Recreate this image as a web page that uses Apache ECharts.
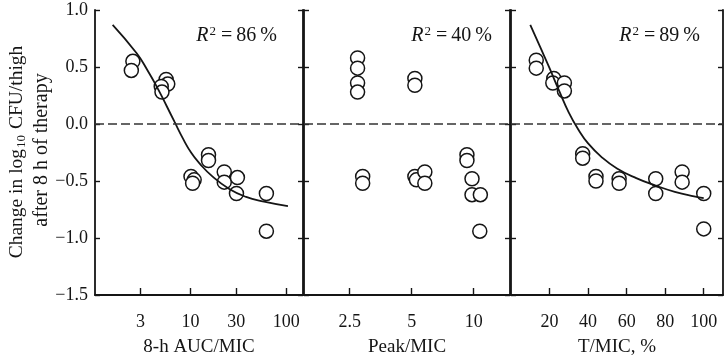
<!DOCTYPE html>
<html><head><meta charset="utf-8">
<script src="https://cdn.jsdelivr.net/npm/echarts@6/dist/echarts.min.js"></script>
<style>html,body{margin:0;padding:0;background:#fff}#c{width:728px;height:355px}</style>
</head><body><div id="c"></div>
<script>
// Panel 1: 8-h AUC/MIC
const aucX = [2.49, 2.40, 5.55, 5.77, 4.93, 5.02, 15.4, 15.4, 10.1, 10.9, 10.5, 22.5, 22.5, 30.9, 30.2, 62.1, 62.1];
const aucY = [0.55, 0.47, 0.39, 0.35, 0.33, 0.28, -0.27, -0.32, -0.46, -0.49, -0.52, -0.42, -0.51, -0.47, -0.61, -0.61, -0.94];
const aucFitX = [1.53, 2.73, 3.55, 4.51, 5.60, 6.78, 8.41, 10.2, 12.4, 16.9, 25.4, 38.1, 58.7, 104.4];
const aucFitY = [0.87, 0.62, 0.47, 0.315, 0.16, 0.02, -0.135, -0.255, -0.345, -0.46, -0.57, -0.64, -0.68, -0.72];
const aucTicks = [3, 10, 30, 100];
// Panel 2: Peak/MIC
const peakX = [2.73, 2.73, 2.73, 2.73, 2.89, 2.89, 5.18, 5.18, 5.18, 5.27, 5.79, 5.79, 9.27, 9.27, 9.81, 9.81, 10.77, 10.70];
const peakY = [0.58, 0.49, 0.36, 0.28, -0.46, -0.52, 0.40, 0.34, -0.46, -0.49, -0.42, -0.52, -0.27, -0.32, -0.48, -0.62, -0.62, -0.94];
const peakTicks = [2.5, 5, 10];
// Panel 3: T/MIC, %
const tX = [13.1, 13.1, 22.2, 21.7, 27.7, 27.7, 37.2, 37.2, 44.1, 44.1, 56.1, 56.1, 75.1, 75.1, 88.8, 88.8, 100, 100];
const tY = [0.56, 0.49, 0.40, 0.36, 0.36, 0.29, -0.26, -0.30, -0.46, -0.50, -0.48, -0.52, -0.48, -0.61, -0.42, -0.51, -0.61, -0.92];
const tFitX = [10, 15, 20, 25, 30, 35, 40, 47, 55, 65, 75, 85, 95, 100];
const tFitY = [0.87, 0.68, 0.49, 0.29, 0.10, -0.05, -0.17, -0.29, -0.39, -0.475, -0.54, -0.595, -0.635, -0.65];
const tTicks = [20, 40, 60, 80, 100];
const r2Labels = ['86', '40', '89'];
const xNames = ['8-h AUC/MIC', 'Peak/MIC', 'T/MIC, %'];

const FONT = '"Liberation Serif", "Times New Roman", serif';
const INK = '#151515';
const zip = (a, b) => a.map((v, i) => [v, b[i]]);

const grids = [
  {left: 95, width: 208, top: 10, bottom: 60, outerBoundsMode: 'none', containLabel: false},
  {left: 304, width: 206, top: 10, bottom: 60, outerBoundsMode: 'none', containLabel: false},
  {left: 511, width: 212, top: 10, bottom: 60, outerBoundsMode: 'none', containLabel: false}
];
const fmtNum = v => String(parseFloat((+v).toPrecision(4)));
function xAxis(i, type, min, max, ticks) {
  return {
    type, gridIndex: i, min, max, logBase: 10,
    name: xNames[i], nameLocation: 'middle', nameGap: 43,
    nameTextStyle: {fontFamily: FONT, fontSize: 19, color: INK},
    axisLine: {show: true, onZero: false, lineStyle: {color: INK, width: 1.8}},
    axisTick: {show: true, inside: true, length: 7, customValues: ticks, lineStyle: {color: INK, width: 1.4}},
    axisLabel: {show: true, customValues: ticks, formatter: fmtNum, margin: 18,
      fontFamily: FONT, fontSize: 18, color: INK},
    splitLine: {show: false}, minorTick: {show: false}
  };
}
function yAxis(i, pos, showLabel) {
  return {
    type: 'value', gridIndex: i, position: pos, min: -1.5, max: 1, interval: 0.5,
    axisLine: {show: true, onZero: false, lineStyle: {color: INK, width: 1.8}},
    axisTick: {show: true, inside: true, length: 5, lineStyle: {color: INK, width: 1.4}},
    axisLabel: {show: showLabel, margin: 7, fontFamily: FONT, fontSize: 18, color: INK,
      formatter: v => (v < 0 ? '\u2212' : '') + Math.abs(v).toFixed(1)},
    splitLine: {show: false}
  };
}
const zeroLine = {
  silent: true, symbol: 'none', label: {show: false},
  lineStyle: {type: [9, 4], color: '#333', width: 1.6},
  data: [{yAxis: 0}]
};
function scatter(i, xs, ys) {
  return {
    type: 'scatter', xAxisIndex: i, yAxisIndex: 2 * i, data: zip(xs, ys),
    symbol: 'circle', symbolSize: 14, z: 2,
    itemStyle: {color: '#fff', borderColor: INK, borderWidth: 1.5, opacity: 1},
    markLine: zeroLine
  };
}
function fit(i, xs, ys) {
  return {
    type: 'line', xAxisIndex: i, yAxisIndex: 2 * i, data: zip(xs, ys),
    smooth: 0.5, showSymbol: false, symbol: 'none', z: 3,
    lineStyle: {color: INK, width: 1.8}
  };
}
function r2(x, label) {
  return {
    type: 'text', x, y: 36, z: 10,
    style: {
      text: '{r|R}{s|2}{n|\u2009=\u2009' + label + '\u2009%}',
      align: 'right', verticalAlign: 'middle', fill: INK,
      rich: {
        r: {fontFamily: FONT, fontStyle: 'italic', fontSize: 20, fill: INK, lineHeight: 22},
        s: {fontFamily: FONT, fontSize: 13, fill: INK, verticalAlign: 'top', lineHeight: 13, padding: [0, 1, 0, 1]},
        n: {fontFamily: FONT, fontSize: 20, fill: INK, lineHeight: 22}
      }
    }
  };
}
const chart = echarts.init(document.getElementById('c'), null, {renderer: 'canvas'});
chart.setOption({
  animation: false,
  backgroundColor: '#fff',
  grid: grids,
  xAxis: [
    xAxis(0, 'log', 1, 150, aucTicks),
    xAxis(1, 'log', 1.5, 15, peakTicks),
    xAxis(2, 'value', 0, 110, tTicks)
  ],
  yAxis: [
    yAxis(0, 'left', true), yAxis(0, 'right', false),
    yAxis(1, 'left', false), yAxis(1, 'right', false),
    yAxis(2, 'left', false), yAxis(2, 'right', false)
  ],
  series: [
    scatter(0, aucX, aucY), fit(0, aucFitX, aucFitY),
    scatter(1, peakX, peakY),
    scatter(2, tX, tY), fit(2, tFitX, tFitY)
  ],
  graphic: [
    r2(277, r2Labels[0]), r2(492, r2Labels[1]), r2(700, r2Labels[2]),
    {type: 'text', x: 17, y: 152, rotation: Math.PI / 2,
     style: {text: 'Change in log{sub|10} CFU/thigh', align: 'center', verticalAlign: 'middle',
       fontFamily: FONT, fontSize: 19.5, fill: INK,
       rich: {sub: {fontFamily: FONT, fontSize: 13, fill: INK, lineHeight: 13, padding: [9, 1, 0, 1]}}}},
    {type: 'text', x: 42, y: 150, rotation: Math.PI / 2,
     style: {text: 'after 8 h of therapy', align: 'center', verticalAlign: 'middle',
       fontFamily: FONT, fontSize: 20, fill: INK}}
  ]
});
</script></body></html>
